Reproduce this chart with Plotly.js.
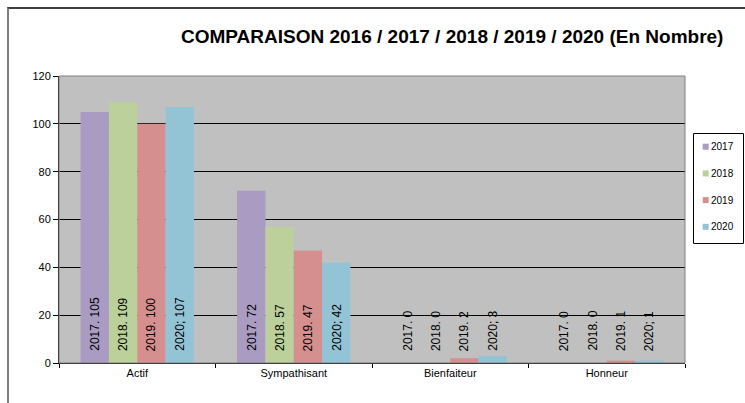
<!DOCTYPE html>
<html>
<head>
<meta charset="utf-8">
<script src="https://cdn.plot.ly/plotly-3.0.1.min.js"></script>
<style>
  html, body { margin: 0; padding: 0; background: #fff; }
  #frame { position: absolute; left: 7px; top: 7px; width: 745px; height: 403px;
           border-left: 2px solid #7f7f7f; border-top: 2px solid #3f3f3f; pointer-events: none; z-index: 5; }
  #chart { width: 745px; height: 403px; }
</style>
</head>
<body>
<div id="frame"></div>
<div id="chart"></div>
<script>
const categories = ["Actif", "Sympathisant", "Bienfaiteur", "Honneur"];
const seriesNames = ["2017", "2018", "2019", "2020"];
const values2017 = [105, 72, 0, 0];
const values2018 = [109, 57, 0, 0];
const values2019 = [100, 47, 2, 1];
const values2020 = [107, 42, 3, 1];
const separators = [". ", ". ", ". ", "; "];
const colors = ["#A99BC1", "#BBD09A", "#D48F8E", "#93C4D6"];
const yTicks = [0, 20, 40, 60, 80, 100, 120];

const allValues = [values2017, values2018, values2019, values2020];
const bargap = 0.276;
const barW = (1 - bargap) / seriesNames.length;

// plot area in pixels (for legend placement in paper units)
const M = { l: 59, r: 60, t: 76, b: 40 };
const W = 745, H = 403;
const pw = W - M.l - M.r, ph = H - M.t - M.b;
const px = v => (v - M.l) / pw;
const py = v => (H - M.b - v) / ph;

const traces = [];
const annotations = [];
const shapes = [];
allValues.forEach((vals, j) => {
  traces.push({
    type: "bar",
    x: categories,
    y: vals,
    name: seriesNames[j],
    marker: { color: colors[j], line: { width: 0 } },
    hoverinfo: "none"
  });
  const off = (j - (seriesNames.length - 1) / 2) * barW;
  vals.forEach((v, i) => {
    annotations.push({
      x: i + off, y: 0, xref: "x", yref: "y",
      text: seriesNames[j] + separators[j] + v,
      textangle: -90,
      showarrow: false,
      xanchor: "center", yanchor: "bottom",
      yshift: 10,
      font: { family: "Liberation Sans, Arial, sans-serif", size: 12, color: "#000" }
    });
  });
});

// plot-area border
shapes.push({
  type: "rect", xref: "paper", yref: "paper", x0: 0, x1: 1, y0: 0, y1: 1,
  line: { color: "#808080", width: 1 }, fillcolor: "rgba(0,0,0,0)", layer: "above"
});
// legend box
shapes.push({
  type: "rect", xref: "paper", yref: "paper",
  x0: px(693.5), x1: px(743.5), y0: py(243.5), y1: py(133.5),
  line: { color: "#000", width: 1 }, fillcolor: "#fff", layer: "above"
});
seriesNames.forEach((name, j) => {
  const cy = 146.7 + j * 26.7;
  shapes.push({
    type: "rect", xref: "paper", yref: "paper",
    xsizemode: "pixel", ysizemode: "pixel",
    xanchor: px(705.7), yanchor: py(cy),
    x0: -3, x1: 3, y0: -3, y1: 3,
    line: { width: 0 }, fillcolor: colors[j], layer: "above"
  });
  annotations.push({
    xref: "paper", yref: "paper", x: px(709), y: py(cy),
    xanchor: "left", yanchor: "middle", showarrow: false,
    text: name, font: { size: 10, color: "#000" }
  });
});

const layout = {
  width: W, height: H,
  margin: { l: M.l, r: M.r, t: M.t, b: M.b, pad: 0, autoexpand: false },
  paper_bgcolor: "#ffffff",
  plot_bgcolor: "#C0C0C0",
  font: { family: "Liberation Sans, Arial, sans-serif", size: 11, color: "#000" },
  title: {
    text: "<b>COMPARAISON 2016 / 2017 / 2018 / 2019 / 2020 (En Nombre)</b>",
    font: { size: 19, color: "#000" },
    x: 0.607, xanchor: "center", y: 0.91, yanchor: "middle"
  },
  barmode: "group",
  bargap: bargap,
  bargroupgap: 0,
  showlegend: false,
  xaxis: {
    type: "category",
    showgrid: false,
    showline: true, linecolor: "#000", linewidth: 1,
    ticks: "outside", tickson: "boundaries", ticklen: 4, tickcolor: "#000",
    tickfont: { size: 11 },
    range: [-0.5, 3.5],
    fixedrange: true
  },
  yaxis: {
    range: [0, 120],
    tickvals: yTicks,
    showgrid: true, gridcolor: "#000", gridwidth: 1,
    zeroline: false,
    showline: true, linecolor: "#000", linewidth: 1,
    ticks: "outside", ticklen: 5, tickcolor: "#000",
    tickfont: { size: 11 },
    fixedrange: true
  },
  shapes: shapes,
  annotations: annotations
};

Plotly.newPlot("chart", traces, layout, { displayModeBar: false, staticPlot: true });
</script>
</body>
</html>
